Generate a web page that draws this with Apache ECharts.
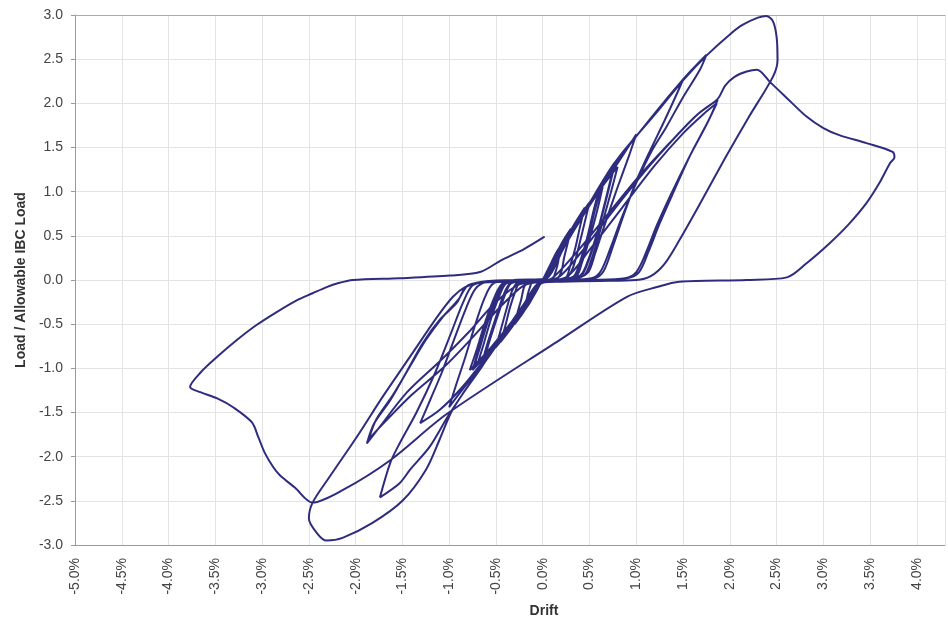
<!DOCTYPE html>
<html>
<head>
<meta charset="utf-8">
<script src="https://cdn.jsdelivr.net/npm/echarts/dist/echarts.min.js"></script>
<style>
html,body{margin:0;padding:0;background:#ffffff;}
#chart{width:948px;height:617px;}
</style>
</head>
<body>
<div id="chart"></div>
<script>
// Drift (%) , Load / Allowable IBC Load  -- traced cycle by cycle
const start = [[0, 0]];
const cycle01 = [[0.07,0.15],[0.14,0.3],[0.2,0.4],[0.18,0.3],[0.16,0.18],[0.13,0.07],[0.11,0.02],[0.06,0],[0,-0.01],
  [-0.07,-0.13],[-0.14,-0.26],[-0.2,-0.35],[-0.18,-0.26],[-0.16,-0.16],[-0.13,-0.06],[-0.11,-0.01],[-0.06,0],[0,0.01]];
const cycle02 = [[0.1,0.2],[0.21,0.43],[0.3,0.58],[0.27,0.43],[0.23,0.26],[0.2,0.1],[0.16,0.02],[0.09,0],[0,-0.01],
  [-0.1,-0.18],[-0.21,-0.37],[-0.3,-0.5],[-0.27,-0.37],[-0.23,-0.22],[-0.2,-0.08],[-0.16,-0.02],[-0.09,0],[0,0.01]];
const cycle03 = [[0.16,0.3],[0.32,0.6],[0.45,0.82],[0.4,0.61],[0.35,0.37],[0.29,0.15],[0.25,0.03],[0.13,0],[0,-0.01],
  [-0.16,-0.26],[-0.32,-0.52],[-0.45,-0.7],[-0.4,-0.52],[-0.35,-0.31],[-0.29,-0.12],[-0.25,-0.03],[-0.13,0],[0,0.01]];
const cycle04 = [[0.17,0.33],[0.35,0.65],[0.5,0.88],[0.45,0.66],[0.39,0.4],[0.33,0.16],[0.27,0.04],[0.15,0],[0,-0.01],
  [-0.17,-0.28],[-0.35,-0.56],[-0.5,-0.76],[-0.45,-0.57],[-0.39,-0.34],[-0.33,-0.13],[-0.27,-0.03],[-0.15,0],[0,0.01]];
const cycle05 = [[0.21,0.38],[0.42,0.75],[0.6,1.02],[0.54,0.77],[0.47,0.46],[0.39,0.18],[0.33,0.04],[0.18,0],[0,-0.01],
  [-0.22,-0.33],[-0.43,-0.65],[-0.62,-0.88],[-0.56,-0.66],[-0.48,-0.4],[-0.4,-0.16],[-0.34,-0.04],[-0.19,0],[0,0.01]];
const cycle05b = [[0.2,0.37],[0.41,0.74],[0.62,1.04],[0.56,0.8],[0.49,0.5],[0.41,0.2],[0.35,0.05],[0.19,0],[0,-0.01],
  [-0.23,-0.34],[-0.45,-0.66],[-0.64,-0.9],[-0.58,-0.68],[-0.5,-0.42],[-0.42,-0.17],[-0.35,-0.04],[-0.2,0],[0,0.01]];
const cycle06 = [[0.23,0.42],[0.46,0.81],[0.65,1.1],[0.59,0.82],[0.51,0.5],[0.42,0.2],[0.36,0.04],[0.2,0],[0,-0.01],
  [-0.25,-0.36],[-0.49,-0.71],[-0.7,-0.96],[-0.63,-0.72],[-0.55,-0.43],[-0.46,-0.17],[-0.39,-0.04],[-0.21,0],[0,0.01]];
const cycle07 = [[0.26,0.46],[0.53,0.9],[0.75,1.22],[0.68,0.92],[0.59,0.55],[0.49,0.22],[0.41,0.05],[0.22,0],[0,-0.01],
  [-0.26,-0.39],[-0.53,-0.76],[-0.75,-1.02],[-0.68,-0.77],[-0.59,-0.46],[-0.49,-0.18],[-0.41,-0.04],[-0.22,0],[0,0.01]];
const cycle07b = [[0.25,0.45],[0.51,0.88],[0.74,1.2],[0.67,0.9],[0.58,0.53],[0.48,0.21],[0.4,0.05],[0.21,0],[0,-0.01],
  [-0.25,-0.38],[-0.52,-0.75],[-0.74,-1.0],[-0.67,-0.76],[-0.58,-0.45],[-0.48,-0.17],[-0.4,-0.04],[-0.21,0],[0,0.01]];
const cycle08 = [[0.28,0.48],[0.56,0.95],[0.8,1.28],[0.72,0.96],[0.62,0.58],[0.52,0.23],[0.44,0.05],[0.24,0],[0,-0.01],
  [-0.27,-0.39],[-0.55,-0.76],[-0.78,-1.02],[-0.7,-0.77],[-0.61,-0.46],[-0.51,-0.18],[-0.43,-0.04],[-0.23,0],[0,0.01]];
const cycle09 = [[0.2,0.34],[0.45,0.76],[0.7,1.16],[0.88,1.45],[1.0,1.65],[0.92,1.4],[0.8,1.05],[0.67,0.65],[0.56,0.3],[0.48,0.08],[0.3,0],[0,-0.02],
  [-0.2,-0.3],[-0.45,-0.68],[-0.7,-1.03],[-0.88,-1.27],[-1.0,-1.44],[-0.93,-1.2],[-0.83,-0.88],[-0.72,-0.5],[-0.62,-0.2],[-0.53,-0.04],[-0.3,0],[0,0.01]];
const cycle10 = [[0.25,0.42],[0.55,0.93],[0.85,1.42],[1.1,1.76],[1.3,2.02],[1.5,2.27],[1.43,2.1],[1.3,1.8],[1.15,1.47],[1.0,1.12],[0.87,0.75],[0.75,0.38],[0.65,0.1],[0.55,0.02],[0.3,0],[0,-0.02],
  [-0.25,-0.38],[-0.55,-0.8],[-0.85,-1.2],[-1.1,-1.47],[-1.31,-1.62],[-1.2,-1.35],[-1.08,-1.05],[-0.95,-0.68],[-0.82,-0.32],[-0.72,-0.1],[-0.6,-0.02],[-0.3,0],[0,0.01]];
const cycle11 = [[0.05,0.05],[0.3,0.5],[0.55,0.95],[0.8,1.37],[0.96,1.58],[1.22,1.9],[1.5,2.27],[1.75,2.55],[1.68,2.38],[1.5,2.07],[1.32,1.73],[1.17,1.47],[1.0,1.1],[0.85,0.72],[0.72,0.35],[0.62,0.1],[0.52,0.02],[0.2,0],[0,-0.02],
  [-0.1,-0.12],[-0.4,-0.6],[-0.7,-1.05],[-1.0,-1.52],[-1.21,-1.89],[-1.42,-2.15],[-1.53,-2.3],[-1.74,-2.46],[-1.63,-2.07],[-1.53,-1.85],[-1.35,-1.5],[-1.15,-1.05],[-0.98,-0.6],[-0.85,-0.25],[-0.75,-0.06],[-0.6,-0.02],[-0.3,-0.01],[0,0]];
const cycle12 = [[0.15,0.02],[0.4,0.3],[0.75,0.78],[1.1,1.24],[1.42,1.62],[1.66,1.88],[1.87,2.04],[1.77,1.8],[1.57,1.4],[1.37,0.97],[1.22,0.62],[1.1,0.3],[1.0,0.09],[0.88,0.02],[0.5,0],[0,-0.02],
  [-0.25,-0.05],[-0.5,-0.25],[-0.8,-0.6],[-1.1,-0.92],[-1.45,-1.27],[-1.77,-1.7],[-1.88,-1.85],[-1.8,-1.62],[-1.63,-1.36],[-1.45,-1.03],[-1.28,-0.71],[-1.1,-0.45],[-0.92,-0.26],[-0.82,-0.08],[-0.65,-0.02],[-0.3,0],[0.05,0]];
const cycle13 = [[0.25,0.03],[0.5,0.34],[0.85,0.82],[1.2,1.3],[1.5,1.66],[1.72,1.88],[1.86,2.0],[1.76,1.78],[1.58,1.42],[1.4,1.0],[1.25,0.64],[1.13,0.32],[1.03,0.09],[0.9,0.02],[0.5,0],[0,-0.02],
  [-0.2,-0.06],[-0.45,-0.3],[-0.75,-0.65],[-1.05,-0.98],[-1.4,-1.3],[-1.7,-1.62],[-1.86,-1.8],[-1.78,-1.58],[-1.6,-1.3],[-1.42,-0.98],[-1.25,-0.68],[-1.07,-0.42],[-0.9,-0.22],[-0.8,-0.06],[-0.6,-0.02],[-0.3,0],[0,0]];
const cycle14 = [[0.25,0.42],[0.5,0.87],[0.75,1.3],[0.96,1.58],[1.22,1.9],[1.5,2.26],[1.75,2.54],[2.0,2.78],[2.14,2.89],[2.3,2.97],[2.39,2.99],[2.46,2.93],[2.5,2.75],[2.51,2.49],[2.46,2.3],
  [2.2,1.84],[1.95,1.38],[1.7,0.9],[1.46,0.45],[1.3,0.18],[1.15,0.04],[1.0,0],[0.6,-0.01],[0.2,-0.02],[0,-0.03],
  [-0.15,-0.2],[-0.4,-0.58],[-0.65,-0.98],[-0.85,-1.28],[-0.98,-1.5],[-1.1,-1.8],[-1.25,-2.15],[-1.5,-2.5],[-1.82,-2.75],[-2.14,-2.92],[-2.31,-2.95],[-2.41,-2.87],[-2.5,-2.7],[-2.46,-2.52],
  [-2.28,-2.23],[-1.99,-1.78],[-1.71,-1.32],[-1.42,-0.87],[-1.13,-0.42],[-0.96,-0.19],[-0.83,-0.08],[-0.67,-0.03],[-0.35,-0.02],[-0.03,-0.01]];
const cycle15 = [[0.1,0.02],[0.35,0.3],[0.7,0.75],[1.05,1.2],[1.4,1.6],[1.65,1.87],[1.87,2.05],[1.95,2.2],[2.05,2.3],[2.18,2.36],[2.29,2.38],[2.43,2.24],[2.6,2.07],[2.82,1.85],[3.0,1.72],[3.17,1.64],[3.46,1.55],[3.74,1.45],[3.76,1.39],[3.71,1.32],[3.6,1.1],[3.46,0.87],[3.27,0.63],[3.07,0.42],[2.82,0.19],[2.61,0.03],[2.18,0],[1.46,-0.02],[1.22,-0.08],[0.9,-0.19],
  [0.18,-0.68],[-1.03,-1.52],[-1.63,-2.04],[-2.14,-2.38],[-2.46,-2.52],[-2.65,-2.35],[-2.81,-2.21],[-2.88,-2.12],[-2.97,-1.96],[-3.04,-1.78],[-3.11,-1.61],[-3.31,-1.44],[-3.48,-1.34],[-3.66,-1.27],[-3.77,-1.21],
  [-3.66,-1.05],[-3.48,-0.87],[-3.27,-0.68],[-3.06,-0.51],[-2.84,-0.36],[-2.63,-0.23],[-2.46,-0.15],[-2.31,-0.08],[-2.2,-0.04],[-2.03,0],[-1.53,0.02],[-0.99,0.05],[-0.67,0.09],[-0.45,0.22],[-0.2,0.35],[0.02,0.49]];

const path = [].concat(start, cycle01, cycle02, cycle03, cycle04, cycle05, cycle05b, cycle06, cycle07, cycle07b, cycle08,
  cycle09, cycle10, cycle11, cycle12, cycle13, cycle14, cycle15);

const xName = 'Drift';
const yName = 'Load / Allowable IBC Load';

const chart = echarts.init(document.getElementById('chart'), null, {renderer: 'canvas'});
chart.setOption({
  animation: false,
  backgroundColor: '#ffffff',
  grid: {left: 75, right: 3, top: 15, bottom: 72, containLabel: false, outerBoundsMode: 'none'},
  xAxis: [{
    type: 'value', min: -5, max: 4.3, interval: 0.5,
    axisLine: {show: true, onZero: false, lineStyle: {color: '#9a9a9a', width: 1}},
    axisTick: {show: false},
    splitLine: {show: true, lineStyle: {color: '#e3e3e3', width: 1}},
    axisLabel: {rotate: 90, margin: 13, fontSize: 14, color: '#444', fontFamily: 'Liberation Sans',
      showMaxLabel: false, formatter: v => v.toFixed(1) + '%'},
    name: xName, nameLocation: 'middle', nameGap: 59,
    nameTextStyle: {fontSize: 14, fontWeight: 'bold', color: '#333', fontFamily: 'Liberation Sans', padding: [0, 0, 0, 68]}
  }, {
    type: 'value', position: 'top', min: -5, max: 4.3,
    axisLine: {show: true, onZero: false, lineStyle: {color: '#aaaaaa', width: 1}},
    axisTick: {show: false}, axisLabel: {show: false}, splitLine: {show: false}
  }],
  yAxis: {
    type: 'value', min: -3, max: 3, interval: 0.5,
    axisLine: {show: true, onZero: false, lineStyle: {color: '#9a9a9a', width: 1}},
    axisTick: {show: true, length: 4, lineStyle: {color: '#9a9a9a'}},
    splitLine: {show: true, lineStyle: {color: '#e3e3e3', width: 1}},
    axisLabel: {margin: 12, fontSize: 14, color: '#444', fontFamily: 'Liberation Sans', formatter: v => v.toFixed(1)},
    name: yName, nameLocation: 'middle', nameGap: 44,
    nameTextStyle: {fontSize: 14, fontWeight: 'bold', color: '#333', fontFamily: 'Liberation Sans'}
  },
  series: [{
    type: 'line', xAxisIndex: 0, data: path, showSymbol: false, smooth: 0.3,
    lineStyle: {color: '#2d2c7e', width: 2}, clip: false
  }]
});
</script>
</body>
</html>
